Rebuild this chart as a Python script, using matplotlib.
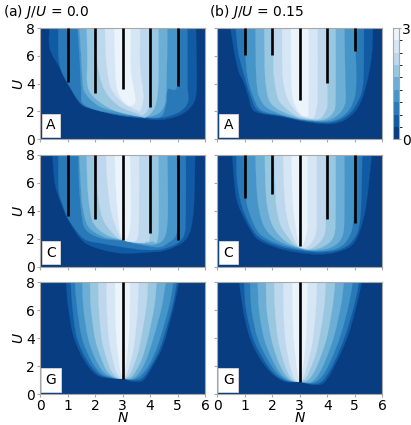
import matplotlib
matplotlib.use("Agg")
import matplotlib.pyplot as plt
from matplotlib.colors import BoundaryNorm, ListedColormap
from matplotlib.cm import ScalarMappable
from matplotlib.path import Path
from matplotlib.patches import PathPatch

levels = [i / 3 for i in range(10)]
N_ticks = [0, 1, 2, 3, 4, 5, 6]
U_ticks = [0, 2, 4, 6, 8]
stick_N = [1, 2, 3, 4, 5]
stick_N_G = [3]

stick_A_J0 = [4.1, 3.3, 3.6, 2.3, 3.8]
stick_A_J15 = [6.06, 6.06, 2.83, 4.02, 6.37]
stick_C_J0 = [3.6, 3.42, 1.92, 2.4, 1.92]
stick_C_J15 = [4.9, 5.2, 1.5, 3.42, 3.1]
stick_G_J0 = [1.08]
stick_G_J15 = [0.84]

# contour outlines (N, U) for value >= 1/3, 2/3, ..., 8/3
A_J0 = [
 [(.34,8),(.36,6.5),(.73,5.1),(1.03,4.0),(1.45,2.6),(1.94,2.2),(2.8,1.75),(3.76,1.5),(4.36,1.4),(5.1,1.75),(5.58,2.6),(5.7,4),(5.67,8)],
 [(.67,8),(.67,6.1),(.76,5),(1.04,3.9),(1.5,2.55),(2,2.12),(2.9,1.72),(3.76,1.55),(4.4,1.55),(5.05,1.95),(5.38,2.7),(5.36,4),(5.36,8)],
 [(1.37,8),(1.45,5.5),(1.5,3.5),(1.55,2.6),(2.05,2.12),(2.9,1.8),(3.8,1.6),(4.4,1.65),(4.6,2.7),(4.65,3.6),(5.0,3.9),(5.03,8)],
 [(1.43,8),(1.5,6),(1.55,4.2),(1.65,3.3),(2.18,2.35),(3.0,1.9),(3.6,1.68),(4.1,1.68),(4.5,2.3),(4.6,4),(4.63,8)],
 [(1.7,8),(1.72,5.7),(1.72,4),(1.94,3.07),(2.67,2.1),(3.64,1.63),(3.88,1.63),(4.18,2.35),(4.3,4),(4.3,8)],
 [(2,8),(2.06,5.9),(2.18,4.5),(2.42,3.3),(2.91,2.35),(3.52,1.87),(3.76,1.75),(4.0,2.6),(3.98,5),(3.98,8)],
 [(2.36,8),(2.4,5.9),(2.48,4.5),(2.61,3.55),(3.03,2.6),(3.52,2.1),(3.64,2.05),(3.76,3.07),(3.64,5.2),(3.64,8)],
 [(2.7,8),(2.72,6.4),(2.75,4.5),(2.85,3.3),(3.1,2.6),(3.3,2.4),(3.45,2.6),(3.45,3.2),(3.3,5),(3.3,8)],
]
A_J15 = [
 [(.48,8),(.6,6.5),(.76,5),(1.0,3.9),(1.13,3.07),(1.37,2),(2.34,1.63),(3.19,1.27),(4.04,1.1),(4.64,1.39),(5.13,2.35),(5.43,4.02),(5.61,5.94),(5.66,8)],
 [(.67,8),(.76,6.3),(.95,4.8),(1.2,3.2),(1.5,2.05),(2.34,1.68),(3.2,1.32),(4.04,1.2),(4.6,1.55),(5.02,2.4),(5.3,4),(5.33,8)],
 [(1.0,8),(1.03,6),(1.1,4.5),(1.3,3.1),(1.6,2.1),(2.4,1.7),(3.2,1.38),(4.0,1.27),(4.55,1.65),(4.9,2.5),(5.05,4),(5.0,8)],
 [(1.39,8),(1.4,6),(1.42,4.5),(1.5,3.2),(1.79,2.3),(2.4,1.75),(3.1,1.42),(3.9,1.35),(4.35,1.7),(4.65,2.6),(4.65,4.5),(4.62,8)],
 [(1.71,8),(1.72,6),(1.74,4.5),(1.85,3),(2.1,2.3),(2.6,1.8),(3.1,1.48),(3.8,1.4),(4.2,1.9),(4.3,3),(4.3,8)],
 [(2.04,8),(2.04,6),(2.06,4.5),(2.2,3),(2.4,2.4),(2.8,1.78),(3.1,1.55),(3.7,1.48),(3.95,2.1),(4,3),(3.98,8)],
 [(2.36,8),(2.36,6),(2.38,4.5),(2.5,3.2),(2.68,2.5),(2.95,1.85),(3.2,1.6),(3.5,1.55),(3.62,2.4),(3.65,3.5),(3.65,8)],
 [(2.68,8),(2.68,6),(2.7,4),(2.75,3),(2.85,2.4),(3.05,1.75),(3.3,1.7),(3.3,2.5),(3.32,4),(3.31,8)],
]
C_J0 = [
 [(.45,8),(.55,5.87),(.79,4.43),(1.03,3.35),(1.58,1.8),(2.3,1.2),(3.03,.96),(3.88,1.03),(4.6,1.2),(5.33,2.03),(5.58,3.95),(5.64,8)],
 [(.67,8),(.68,5.5),(.85,4.3),(1.05,3.35),(1.6,2.0),(2.3,1.65),(3.03,1.4),(3.88,1.2),(4.6,1.35),(5.2,2.1),(5.3,4),(5.3,8)],
 [(1.4,8),(1.42,6),(1.5,4),(1.65,2.7),(2.2,2.05),(3.0,1.85),(3.6,1.6),(4.3,1.4),(4.65,1.7),(4.95,2.3),(5,4),(4.97,8)],
 [(1.43,8),(1.48,6),(1.55,4.3),(1.75,2.9),(2.3,2.15),(3,1.9),(3.6,1.67),(4.2,1.6),(4.55,2.2),(4.65,4),(4.63,8)],
 [(1.7,8),(1.72,6),(1.8,4.3),(1.95,3.1),(2.4,2.3),(3,1.92),(3.65,1.7),(4.05,1.8),(4.3,2.3),(4.3,8)],
 [(2,8),(2.05,6),(2.2,4),(2.4,3),(2.8,2.1),(3,1.92),(3.5,1.72),(3.85,1.8),(4,2.5),(3.98,8)],
 [(2.4,8),(2.45,6),(2.58,4),(2.75,2.9),(2.95,2.05),(3.3,1.8),(3.55,2.1),(3.6,4),(3.6,8)],
 [(2.72,8),(2.75,6),(2.82,4),(2.9,2.6),(3.0,2.0),(3.15,2.0),(3.25,2.6),(3.3,4),(3.27,8)],
]
C_J15 = [
 [(.55,8),(.62,6),(.76,4.43),(1.25,2.5),(1.61,1.8),(2.46,1.2),(3.55,.89),(4.4,1.08),(5,1.8),(5.37,3.95),(5.58,7.3),(5.61,8)],
 [(.7,8),(.72,6.2),(.9,4.3),(1.32,2.55),(1.75,1.85),(2.5,1.35),(3.55,1.05),(4.4,1.2),(4.95,1.95),(5.2,3.5),(5.27,8)],
 [(1.0,8),(1.02,6),(1.1,4.3),(1.45,2.6),(1.9,1.9),(2.6,1.42),(3.5,1.12),(4.3,1.28),(4.75,2),(4.95,3.5),(4.97,8)],
 [(1.39,8),(1.42,6),(1.5,4.3),(1.7,2.9),(2.1,2),(2.7,1.48),(3.45,1.18),(4.15,1.4),(4.55,2.2),(4.62,4),(4.62,8)],
 [(1.73,8),(1.75,6),(1.82,4.3),(2,3),(2.35,2.05),(2.8,1.5),(3.4,1.22),(3.95,1.55),(4.25,2.3),(4.3,4),(4.3,8)],
 [(2.07,8),(2.1,6),(2.15,4.3),(2.3,3),(2.55,2.2),(2.85,1.55),(3.3,1.26),(3.7,1.7),(3.92,2.5),(3.94,4),(3.94,8)],
 [(2.4,8),(2.42,6),(2.48,4.3),(2.6,3),(2.75,2.2),(2.92,1.55),(3.2,1.35),(3.45,1.8),(3.6,2.6),(3.61,4),(3.61,8)],
 [(2.7,8),(2.72,6),(2.76,4.3),(2.85,2.9),(2.95,1.9),(3.05,1.5),(3.15,1.7),(3.27,2.7),(3.28,4),(3.28,8)],
]
G_J0 = [
 [(.95,8),(1.03,6.16),(1.24,4),(1.64,2.32),(2.06,1.37),(2.55,1.13),(3,1.08),(3.39,.89),(3.76,1.0),(4.12,2.08),(4.48,3.52),(4.85,6.16),(5.05,8)],
 [(1.12,8),(1.18,6.2),(1.35,4),(1.72,2.4),(2.12,1.45),(2.55,1.16),(3,1.1),(3.4,1.0),(3.72,1.15),(4.06,2.1),(4.4,3.5),(4.8,6.2),(4.97,8)],
 [(1.27,8),(1.35,6.2),(1.53,4),(1.85,2.45),(2.2,1.5),(2.6,1.18),(3,1.1),(3.38,1.05),(3.68,1.35),(3.98,2.15),(4.3,3.6),(4.68,6.2),(4.85,8)],
 [(1.54,8),(1.58,6.2),(1.75,4),(2.0,2.6),(2.3,1.6),(2.65,1.2),(3,1.1),(3.35,1.1),(3.6,1.5),(3.85,2.4),(4.12,4),(4.42,6.2),(4.57,8)],
 [(1.82,8),(1.85,6.2),(2,4),(2.2,2.7),(2.42,1.7),(2.7,1.2),(3,1.1),(3.3,1.2),(3.5,1.7),(3.72,2.6),(3.92,4),(4.15,6.2),(4.24,8)],
 [(2.12,8),(2.14,6.2),(2.24,4),(2.4,2.7),(2.58,1.7),(2.8,1.2),(3,1.1),(3.22,1.3),(3.38,1.9),(3.57,3),(3.72,4.5),(3.88,6.5),(3.92,8)],
 [(2.42,8),(2.43,6.2),(2.5,4),(2.62,2.7),(2.75,1.7),(2.88,1.25),(3,1.15),(3.14,1.4),(3.26,2.1),(3.42,3.5),(3.55,6),(3.58,8)],
 [(2.73,8),(2.74,6),(2.78,4),(2.85,2.6),(2.92,1.7),(3,1.3),(3.08,1.6),(3.15,2.6),(3.24,4.5),(3.27,8)],
]
G_J15 = [
 [(.8,8),(.95,5.9),(1.19,4),(1.55,2.56),(1.98,1.48),(2.46,.89),(3,.84),(3.55,.65),(3.92,.89),(4.34,2.32),(4.76,4.24),(5.07,6.4),(5.25,8)],
 [(.97,8),(1.05,6),(1.3,4),(1.65,2.6),(2.05,1.5),(2.5,.95),(3,.86),(3.5,.72),(3.85,1.0),(4.25,2.3),(4.65,4.2),(4.98,6.4),(5.15,8)],
 [(1.19,8),(1.25,6),(1.47,4),(1.8,2.6),(2.15,1.55),(2.55,.98),(3,.87),(3.45,.8),(3.78,1.2),(4.1,2.3),(4.48,4.2),(4.78,6.4),(4.92,8)],
 [(1.47,8),(1.52,6),(1.7,4),(1.97,2.6),(2.27,1.55),(2.6,1.0),(3,.88),(3.4,.85),(3.68,1.4),(3.95,2.5),(4.25,4.2),(4.5,6.4),(4.6,8)],
 [(1.77,8),(1.8,6),(1.96,4),(2.17,2.6),(2.4,1.6),(2.68,1.0),(3,.88),(3.3,1.0),(3.55,1.7),(3.78,2.8),(4,4.2),(4.2,6.4),(4.28,8)],
 [(2.07,8),(2.1,6),(2.2,4),(2.37,2.6),(2.55,1.6),(2.76,1.0),(3,.88),(3.22,1.15),(3.4,1.9),(3.6,3),(3.78,4.8),(3.9,6.5),(3.94,8)],
 [(2.4,8),(2.41,6),(2.47,4),(2.58,2.6),(2.72,1.5),(2.85,1.0),(3,.88),(3.14,1.25),(3.28,2.2),(3.45,3.6),(3.58,6),(3.62,8)],
 [(2.73,8),(2.74,6),(2.78,4),(2.85,2.6),(2.92,1.5),(3,1.0),(3.07,1.5),(3.16,2.6),(3.24,4.5),(3.28,8)],
]

panels = [
    (A_J0, stick_N, stick_A_J0, "A", 0, 0),
    (A_J15, stick_N, stick_A_J15, "A", 0, 1),
    (C_J0, stick_N, stick_C_J0, "C", 1, 0),
    (C_J15, stick_N, stick_C_J15, "C", 1, 1),
    (G_J0, stick_N_G, stick_G_J0, "G", 2, 0),
    (G_J15, stick_N_G, stick_G_J15, "G", 2, 1),
]

W, H = 411, 425
FS = 10
plt.rcParams["font.family"] = "DejaVu Sans"
plt.rcParams["font.size"] = FS
plt.rcParams["mathtext.default"] = "it"
fig = plt.figure(figsize=(W / 100, H / 100), dpi=100)

col_x = [(40, 205), (217.3, 382.3)]
row_y = [(28, 139.3), (155, 266.7), (282.3, 394)]
frame = "#a8a8a8"
base = plt.get_cmap("Blues_r")
band_colors = [base((i + 0.5) / 9) for i in range(9)]
cmap = ListedColormap(band_colors)
norm = BoundaryNorm(levels, 9)


def smooth_path(pts):
    """Curve through the read points, closed by a straight line above the top edge."""
    verts = [pts[0]]
    codes = [Path.MOVETO]
    n = len(pts)
    for i in range(n - 1):
        p0 = pts[max(i - 1, 0)]
        p1 = pts[i]
        p2 = pts[i + 1]
        p3 = pts[min(i + 2, n - 1)]
        c1 = (p1[0] + (p2[0] - p0[0]) / 6, p1[1] + (p2[1] - p0[1]) / 6)
        c2 = (p2[0] - (p3[0] - p1[0]) / 6, p2[1] - (p3[1] - p1[1]) / 6)
        verts += [c1, c2, p2]
        codes += [Path.CURVE4] * 3
    verts.append(pts[0])
    codes.append(Path.CLOSEPOLY)
    return Path(verts, codes)


for outlines, s_n, s_u, name, r, c in panels:
    x0, x1 = col_x[c]
    y0, y1 = row_y[r]
    ax = fig.add_axes([x0 / W, 1 - y1 / H, (x1 - x0) / W, (y1 - y0) / H])
    ax.set_facecolor(band_colors[0])
    for i, pts in enumerate(outlines):
        ax.add_patch(PathPatch(smooth_path(pts), fc=band_colors[i + 1],
                               ec=band_colors[i + 1], lw=0.2, zorder=2))
    for n, u in zip(s_n, s_u):
        ax.plot([n, n], [u, 8], color="black", lw=1.9,
                solid_capstyle="butt", zorder=3)
    ax.set_xlim(0, 6)
    ax.set_ylim(0, 8)
    ax.set_xticks(N_ticks)
    ax.set_yticks(U_ticks)
    ax.tick_params(color=frame, width=0.8, length=2, pad=1.5, labelsize=FS,
                   labelbottom=r == 2, labelleft=c == 0)
    for sp in ax.spines.values():
        sp.set_color(frame)
        sp.set_linewidth(0.8)
    if r == 2:
        ax.set_xlabel("$N$", labelpad=-1)
    if c == 0:
        ax.set_ylabel("$U$", labelpad=0)
    ax.text(0.4, 1.0, name, ha="center", va="center", fontsize=FS, zorder=5,
            bbox=dict(boxstyle="square,pad=0.33", fc="white", ec="#d8d8d8", lw=0.6))

fig.text(3 / W, 1 - 12 / H, "(a) $J/U$ = 0.0", ha="left", va="center", fontsize=FS)
fig.text(209 / W, 1 - 12 / H, "(b) $J/U$ = 0.15", ha="left", va="center", fontsize=FS)

cax = fig.add_axes([393.3 / W, 1 - 139.3 / H, 5.8 / W, 111.3 / H])
cb = fig.colorbar(ScalarMappable(norm=norm, cmap=cmap), cax=cax,
                  ticks=[0, 3], spacing="proportional")
cb.ax.set_yticklabels(["0", "3"])
cb.ax.tick_params(color=frame, width=0.8, length=1.5, pad=0.8, labelsize=FS)
cb.outline.set_edgecolor(frame)
cb.outline.set_linewidth(0.8)

fig.savefig("out.png", dpi=100)
